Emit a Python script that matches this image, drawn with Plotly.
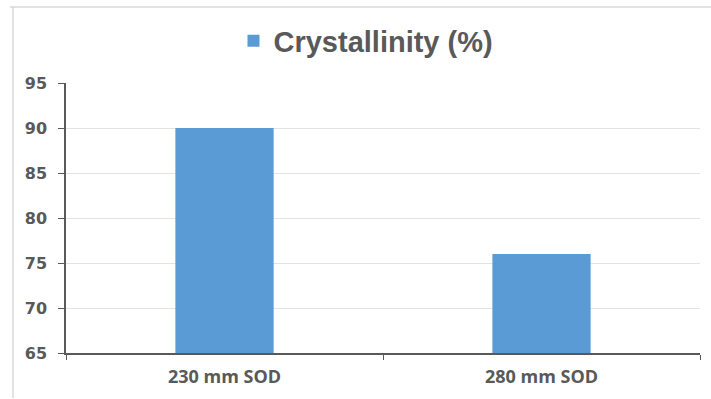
import plotly.graph_objects as go

categories = ["230 mm SOD", "280 mm SOD"]
crystallinity = [90, 76]
series_name = "Crystallinity (%)"
y_ticks = [65, 70, 75, 80, 85, 90, 95]

L, R, T, B = 66, 11, 83, 46
W, H = 711, 399
pw, ph = W - L - R, H - T - B

def px_x(px):
    return (px - L) / pw

def px_y(py):
    return (H - B - py) / ph

fig = go.Figure()
fig.add_trace(go.Bar(
    x=categories, y=crystallinity, name=series_name,
    marker=dict(color="#5B9BD5", line=dict(width=0)),
    showlegend=True,
))

fig.update_layout(
    width=W, height=H,
    margin=dict(l=L, r=R, t=T, b=B),
    paper_bgcolor="white", plot_bgcolor="white",
    bargap=0.69,
    showlegend=True,
    legend=dict(
        orientation="h", x=px_x(366), xanchor="center", y=px_y(41), yanchor="middle",
        font=dict(family="Liberation Sans", size=29, color="#595959", weight="bold"),
        itemwidth=30, bgcolor="rgba(0,0,0,0)",
    ),
    xaxis=dict(
        type="category", showgrid=False, showline=True, linecolor="#595959", linewidth=1.5,
        ticks="outside", tickson="boundaries", ticklen=5, tickcolor="#595959",
        tickfont=dict(family="Open Sans", size=18, color="#595959", weight="bold"),
        ticklabelstandoff=7,
    ),
    yaxis=dict(
        range=[65, 95], tickvals=y_ticks, showgrid=True, gridcolor="#E3E3E3", gridwidth=1,
        showline=True, linecolor="#595959", linewidth=1.5,
        ticks="outside", ticklen=6, tickcolor="#595959",
        tickfont=dict(family="DejaVu Sans", size=16, color="#595959", weight="bold"),
        ticklabelstandoff=8, zeroline=False,
    ),
    shapes=[
        dict(type="line", xref="paper", yref="paper", x0=px_x(10), x1=px_x(715), y0=px_y(7), y1=px_y(7),
             line=dict(color="#D9D9D9", width=1.5)),
        dict(type="line", xref="paper", yref="paper", x0=px_x(13), x1=px_x(13), y0=px_y(7), y1=px_y(398),
             line=dict(color="#D9D9D9", width=1.5)),
    ],
)

fig.write_html("out.html")
